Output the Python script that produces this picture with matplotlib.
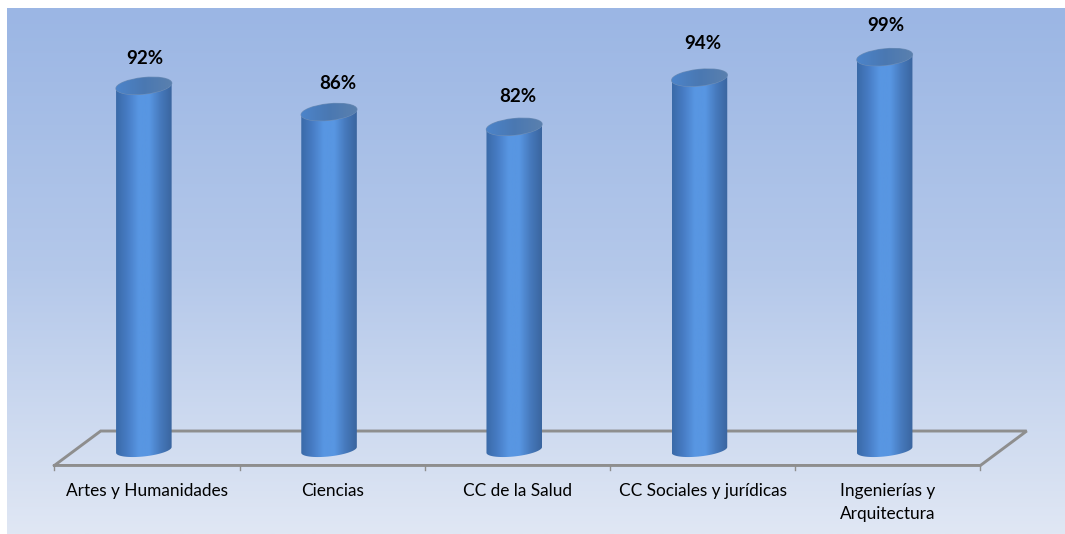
import numpy as np
import matplotlib
matplotlib.use('Agg')
import matplotlib.pyplot as plt
from matplotlib.colors import LinearSegmentedColormap
from matplotlib.patches import Ellipse, PathPatch
from matplotlib.path import Path

plt.rcParams['font.family'] = ['Lato', 'DejaVu Sans']

categories = ['Artes y Humanidades', 'Ciencias', 'CC de la Salud',
              'CC Sociales y jurídicas', 'Ingenierías y\nArquitectura']
values = [92, 85.6, 82, 94, 99]
value_labels = ['92%', '86%', '82%', '94%', '99%']
label_shift_x = [-0.01, 0.03, 0.0, 0.0, -0.01]
label_shift_y = [-0.5, -0.2, 0.2, 1.0, 0.5]

figW, figH = 1065, 534
pxX, pxY = 185.2, 4.1      # px per category, px per percent
x0, y0 = 147, 463          # px position of category 0, value 0

barW = 0.30
barOff = -0.017
barBase = 3.2
capH = 2.0                 # half height of the top cap, in percent units
botH = 1.6                 # same for the bottom curve
capTilt = 0.7
floorFront, floorBack = -0.6, 7.8

fig = plt.figure(figsize=(figW / 100, figH / 100), dpi=100)
ax = fig.add_axes([0, 0, 1, 1])
xlim = (-x0 / pxX, (figW - x0) / pxX)
ylim = ((y0 - figH) / pxY, y0 / pxY)
ax.axis('off')

# background gradient
bgLeft, bgRight = xlim[0] + 7 / pxX, xlim[1]
bgTop, bgBottom = ylim[1] - 8 / pxY, ylim[0]
bgCmap = LinearSegmentedColormap.from_list('bg', ['#9bb6e4', '#b4c8ea', '#e0e7f4'])
ax.imshow(np.linspace(0, 1, 256).reshape(-1, 1), cmap=bgCmap, aspect='auto',
          extent=(bgLeft, bgRight, bgBottom, bgTop), zorder=0)

# floor
floorColor = '#8e8e8e'
ax.plot([-0.5, -0.5 + 0.25, 4.5 + 0.25, 4.5, -0.5],
        [floorFront, floorBack, floorBack, floorFront, floorFront],
        color=floorColor, lw=2.1, zorder=1, solid_joinstyle='miter')
for t in np.arange(-0.5, 5):
    ax.plot([t, t], [floorFront, floorFront - 1.2], color=floorColor, lw=1, zorder=1)

# cylinders
bodyCmap = LinearSegmentedColormap.from_list(
    'body', ['#3a6aa8', '#477cc4', '#5896e2', '#5896e2', '#4679bc', '#3a659f'])
capCmap = LinearSegmentedColormap.from_list('cap', ['#4c84ca', '#4a78b2', '#5a80ae'])

for i, v in enumerate(values):
    cx = i + barOff
    left, right = cx - barW / 2, cx + barW / 2
    rx = barW / 2
    # body outline: a rectangle closed by half ellipses at both ends
    t = np.linspace(0, np.pi, 40)
    topX = cx - rx * np.cos(t)
    topY = v - np.cos(t) * capTilt
    botX = cx + rx * np.cos(t)
    botY = barBase - botH * np.sin(t) + np.cos(t) * capTilt
    verts = np.column_stack([np.r_[topX, botX], np.r_[topY, botY]])
    clip = PathPatch(Path(np.vstack([verts, verts[0]])),
                     facecolor='none', edgecolor='none', transform=ax.transData)
    ax.add_patch(clip)
    im = ax.imshow(np.linspace(0, 1, 128).reshape(1, -1), cmap=bodyCmap, aspect='auto',
                   extent=(left, right, barBase - 3, v + 3), zorder=3)
    im.set_clip_path(clip)

    # tilted cap on top, drawn in pixel units so the ellipse tilt stays right
    cap = Ellipse((x0 + cx * pxX, figH - (y0 - v * pxY)), 56, capH * 2 * pxY, angle=6,
                  transform=None, facecolor='none', edgecolor='#6f8fb8', lw=0.8, zorder=4)
    ax.add_patch(cap)
    capIm = ax.imshow(np.linspace(0, 1, 64).reshape(1, -1), cmap=capCmap, aspect='auto',
                      extent=(left, right, v - 4, v + 4), zorder=4)
    capIm.set_clip_path(cap)

    ax.text(i + label_shift_x[i], v + 7.2 + label_shift_y[i], value_labels[i],
            ha='center', va='center', fontsize=13.5, fontweight='bold',
            color='black', zorder=5)

for i, name in enumerate(categories):
    ax.text(i, -4.9, name, ha='center', va='top', fontsize=12.4, color='black',
            linespacing=1.5, zorder=5)

ax.set_xlim(xlim)
ax.set_ylim(ylim)
fig.savefig('out.png', dpi=100, facecolor='white')
